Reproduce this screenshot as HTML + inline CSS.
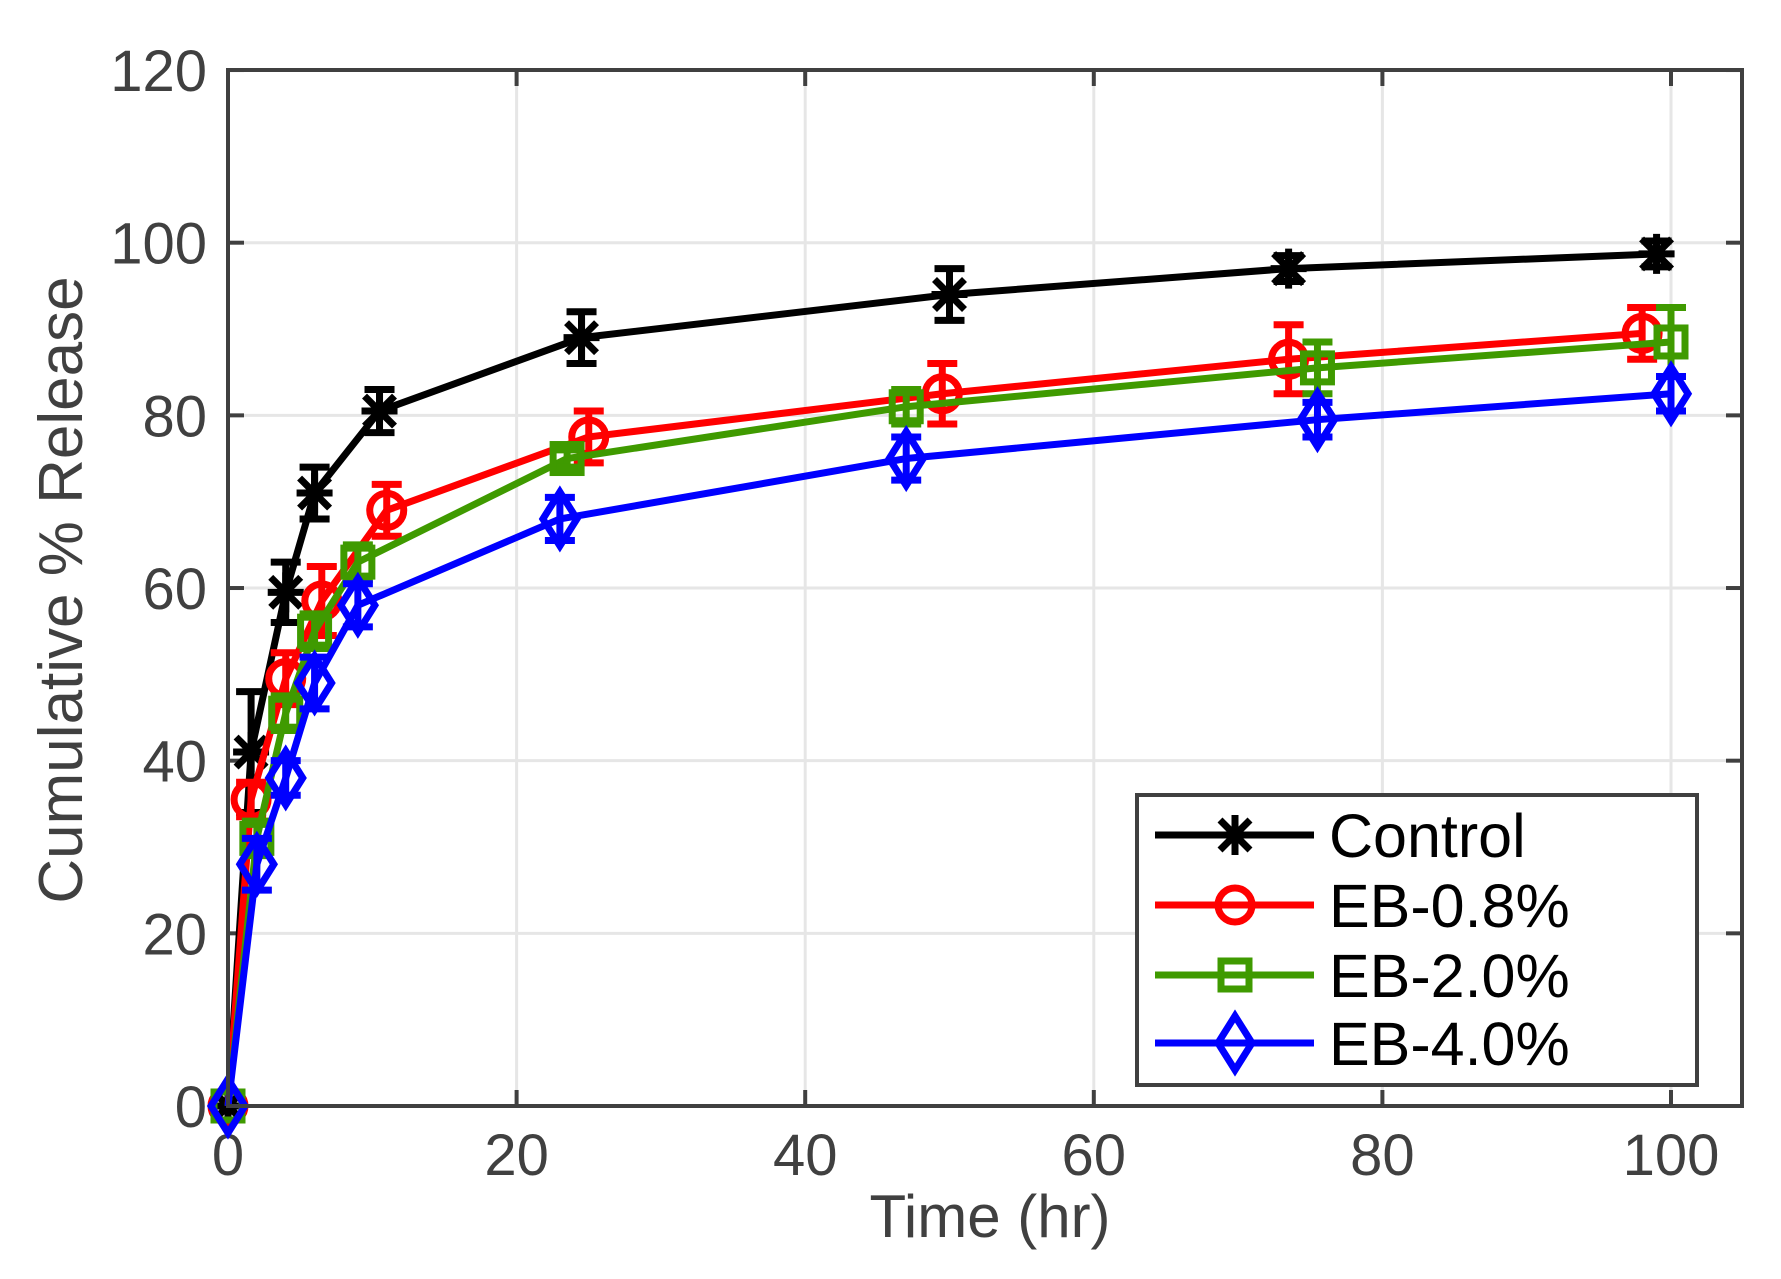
<!DOCTYPE html>
<html><head><meta charset="utf-8"><style>
html,body{margin:0;padding:0;background:#fff;}
svg{display:block;}
text{font-family:"Liberation Sans",Arial,sans-serif;}
</style></head><body>
<svg id="s" width="1781" height="1279" viewBox="0 0 1781 1279" xmlns="http://www.w3.org/2000/svg"></svg>
<script>
const X=t=>228+14.43*t, Y=v=>1106-8.633*v;
const SW=7;
let h='<rect width="1781" height="1279" fill="#fff"/>';
for(let t=20;t<=100;t+=20)h+=`<line x1="${X(t)}" y1="70" x2="${X(t)}" y2="1106" stroke="#e6e6e6" stroke-width="3"/>`;
for(let v=20;v<=100;v+=20)h+=`<line x1="228" y1="${Y(v)}" x2="1742" y2="${Y(v)}" stroke="#e6e6e6" stroke-width="3"/>`;
for(let t=0;t<=100;t+=20){h+=`<line x1="${X(t)}" y1="1106" x2="${X(t)}" y2="1090" stroke="#404040" stroke-width="4"/><line x1="${X(t)}" y1="70" x2="${X(t)}" y2="86" stroke="#404040" stroke-width="4"/>`;
 h+=`<text x="${X(t)}" y="1175" font-size="58" fill="#404040" text-anchor="middle">${t}</text>`;}
for(let v=0;v<=120;v+=20){h+=`<line x1="228" y1="${Y(v)}" x2="244" y2="${Y(v)}" stroke="#404040" stroke-width="4"/><line x1="1742" y1="${Y(v)}" x2="1726" y2="${Y(v)}" stroke="#404040" stroke-width="4"/>`;
 h+=`<text x="207" y="${Y(v)+21}" font-size="58" fill="#404040" text-anchor="end">${v}</text>`;}
h+=`<text x="990" y="1237" font-size="60" fill="#404040" text-anchor="middle">Time (hr)</text>`;
h+=`<text transform="translate(82,590) rotate(-90)" font-size="62" fill="#404040" text-anchor="middle">Cumulative % Release</text>`;
const S=[
 ['#000','ast',[[0,0,0],[1.6,41,7],[4,59.5,3.5],[6,71,3],[10.5,80.5,2.5],[24.5,89,3],[50,94,3],[73.5,97,1.5],[99,98.7,1.5]]],
 ['#ff0000','circ',[[0,0,0],[1.6,35.5,2],[4,49.5,3],[6.5,58.5,4],[11,69,3],[25,77.5,3],[49.5,82.5,3.5],[73.5,86.5,4],[98,89.5,3]]],
 ['#3f9a00','sq',[[0,0,0],[2,31,2],[4,45.5,2],[6,55,2],[9,63,2],[23.5,75,1],[47,81,2],[75.5,85.5,3],[100,88.5,4]]],
 ['#0000ff','dia',[[0,0,0],[2,28,3],[4,38,2],[6,49,3],[9,58,2.5],[23,68,2.5],[47,75,2.5],[75.5,79.5,2],[100,82.5,2]]]];
function mk(type,x,y,c){
 if(type==='ast')return `<g stroke="${c}" stroke-width="${SW}"><line x1="${x-18}" y1="${y}" x2="${x+18}" y2="${y}"/><line x1="${x}" y1="${y-20}" x2="${x}" y2="${y+20}"/><line x1="${x-15}" y1="${y-15}" x2="${x+15}" y2="${y+15}"/><line x1="${x-15}" y1="${y+15}" x2="${x+15}" y2="${y-15}"/></g>`;
 if(type==='circ')return `<circle cx="${x}" cy="${y}" r="17" fill="none" stroke="${c}" stroke-width="${SW}"/>`;
 if(type==='sq')return `<rect x="${x-14}" y="${y-14}" width="28" height="28" fill="none" stroke="${c}" stroke-width="${SW}"/>`;
 return `<polygon points="${x},${y-27} ${x+17},${y} ${x},${y+27} ${x-17},${y}" fill="none" stroke="${c}" stroke-width="${SW}"/>`;
}
for(const [c,type,d] of S){
 h+=`<polyline fill="none" stroke="${c}" stroke-width="${SW}" stroke-linejoin="round" points="${d.map(p=>X(p[0])+','+Y(p[1])).join(' ')}"/>`;
 for(const p of d){const x=X(p[0]);if(p[2]>0){const a=Y(p[1]+p[2]),b=Y(p[1]-p[2]);
  h+=`<g stroke="${c}" stroke-width="${SW}"><line x1="${x}" y1="${a}" x2="${x}" y2="${b}"/><line x1="${x-15}" y1="${a}" x2="${x+15}" y2="${a}"/><line x1="${x-15}" y1="${b}" x2="${x+15}" y2="${b}"/></g>`;}
  h+=mk(type,x,Y(p[1]),c);}
}
h+=`<rect x="228" y="70" width="1514" height="1036" fill="none" stroke="#404040" stroke-width="4"/>`;
h+=`<rect x="1137" y="795" width="560" height="290" fill="#fff" stroke="#404040" stroke-width="4"/>`;
const L=['Control','EB-0.8%','EB-2.0%','EB-4.0%'],LY=[835,905,975,1043];
S.forEach((s,i)=>{h+=`<line x1="1155" y1="${LY[i]}" x2="1314" y2="${LY[i]}" stroke="${s[0]}" stroke-width="${SW}"/>`+mk(s[1],1235,LY[i],s[0])+`<text x="1329" y="${LY[i]+22}" font-size="61" fill="#000">${L[i]}</text>`;});
document.getElementById('s').innerHTML=h;
</script>
</body></html>
